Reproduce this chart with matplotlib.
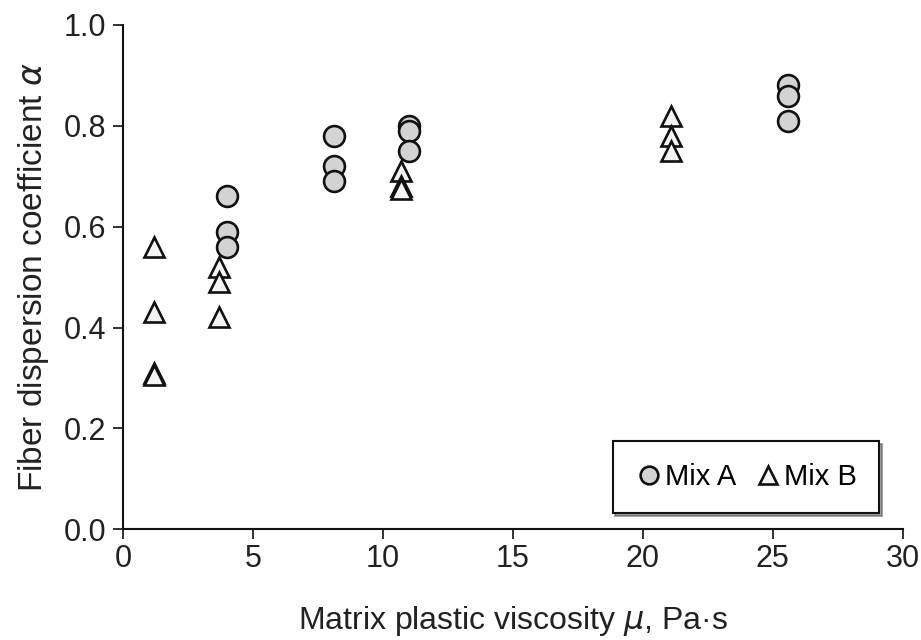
import matplotlib
matplotlib.use("Agg")
import matplotlib.pyplot as plt

plt.rcParams['font.family'] = ['Liberation Sans', 'DejaVu Sans']

# Mix A (circles)
mixA_x = [4.0, 4.0, 4.0, 8.1, 8.1, 8.1, 11.0, 11.0, 11.0, 25.6, 25.6, 25.6]
mixA_y = [0.66, 0.59, 0.56, 0.78, 0.72, 0.69, 0.80, 0.79, 0.75, 0.88, 0.86, 0.81]

# Mix B (triangles)
mixB_x = [1.2, 1.2, 1.2, 1.2, 3.7, 3.7, 3.7, 10.7, 10.7, 10.7, 21.1, 21.1, 21.1]
mixB_y = [0.56, 0.43, 0.31, 0.305, 0.52, 0.49, 0.42, 0.71, 0.68, 0.675, 0.82, 0.78, 0.75]

x_ticks = [0, 5, 10, 15, 20, 25, 30]
y_ticks = [0.0, 0.2, 0.4, 0.6, 0.8, 1.0]

fig = plt.figure(figsize=(9.21, 6.4), dpi=100)
ax = fig.add_axes([0.1336, 0.173, 0.8464, 0.788])

ax.plot(mixA_x, mixA_y, linestyle='none', marker='o', markersize=15,
        markerfacecolor='#d3d3d3', markeredgecolor='#111111', markeredgewidth=1.9,
        label='Mix A')
ax.plot(mixB_x, mixB_y, linestyle='none', marker='^', markersize=15,
        markerfacecolor='#f4f4f4', markeredgecolor='#111111', markeredgewidth=1.9,
        label='Mix B')

ax.set_xlim(0, 30)
ax.set_ylim(0, 1.0)
ax.set_xticks(x_ticks)
ax.set_yticks(y_ticks)
ax.set_yticklabels([f"{v:.1f}" for v in y_ticks])
ax.tick_params(axis='both', direction='out', length=7, width=1.3, labelsize=22,
               colors='#222222')
ax.tick_params(axis='y', pad=5)
for s in ['top', 'right']:
    ax.spines[s].set_visible(False)
for s in ['left', 'bottom']:
    ax.spines[s].set_linewidth(1.5)
    ax.spines[s].set_color('#111111')

ax.set_xlabel(r'Matrix plastic viscosity $\mathit{\mu}$, Pa·s', fontsize=23,
              labelpad=22, color='#222222')
ax.set_ylabel(r'Fiber dispersion coefficient $\mathit{\alpha}$', fontsize=24,
              labelpad=9, color='#222222')

leg = ax.legend(loc='lower right', ncol=2, fontsize=21, frameon=True, shadow=True,
                fancybox=False, handletextpad=0.05, columnspacing=0.6,
                borderpad=0.75, markerscale=0.85, handlelength=1.0,
                borderaxespad=0.0, bbox_to_anchor=(0.97, 0.032))
leg.get_frame().set_edgecolor('#111111')
leg.get_frame().set_linewidth(1.5)

fig.savefig('out.png', dpi=100)
